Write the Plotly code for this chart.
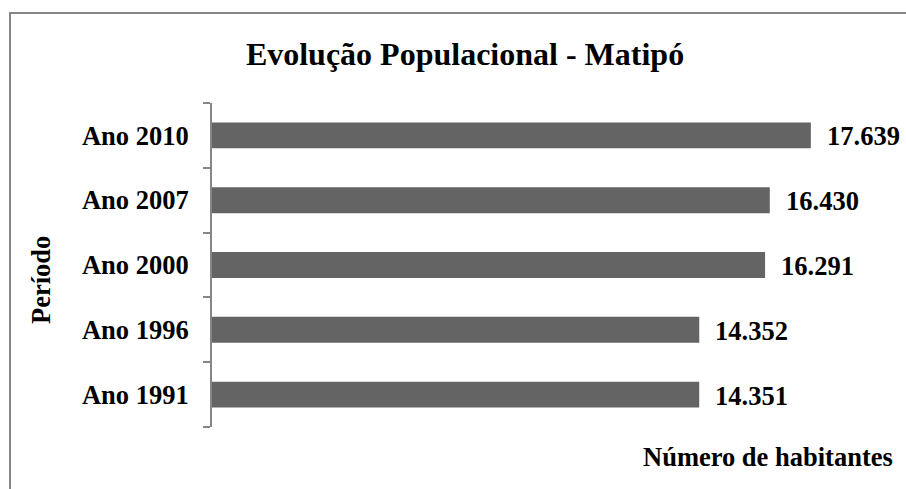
import plotly.graph_objects as go

# dados
periodos = ["Ano 1991", "Ano 1996", "Ano 2000", "Ano 2007", "Ano 2010"]
habitantes = [14351, 14352, 16291, 16430, 17639]
rotulos = ["14.351", "14.352", "16.291", "16.430", "17.639"]

fonte = "Liberation Serif, Times New Roman, serif"
W, H = 906, 489
L, R, T, B = 212, 15, 103, 62
fs = 26.5

fig = go.Figure()
fig.add_trace(go.Bar(
    y=periodos, x=habitantes, orientation="h",
    marker=dict(color="#646464", line=dict(width=0)),
    hoverinfo="skip",
))

# rotulos de dados
for p, v, r in zip(periodos, habitantes, rotulos):
    fig.add_annotation(x=v, y=p, text="<b>%s</b>" % r, showarrow=False,
                       xanchor="left", xshift=14, yshift=-1,
                       font=dict(family=fonte, size=fs, color="black"))

pw = W - L - R
ph = H - T - B
def px_x(x):
    return (x - L) / pw
def px_y(y):
    return (H - B - y) / ph

# moldura do grafico
fig.add_shape(type="rect", xref="paper", yref="paper",
              x0=px_x(10), x1=px_x(915), y0=px_y(13), y1=px_y(500),
              line=dict(color="#868686", width=2), layer="below")

fig.add_annotation(xref="paper", yref="paper", x=px_x(41), y=px_y(280),
                   xanchor="center", yanchor="middle",
                   text="<b>Período</b>", textangle=-90, showarrow=False,
                   font=dict(family=fonte, size=fs, color="black"))
fig.add_annotation(xref="paper", yref="paper", x=px_x(895), y=px_y(457),
                   xanchor="right", yanchor="middle",
                   text="<b>Número de habitantes</b>", showarrow=False,
                   font=dict(family=fonte, size=fs, color="black"))

fig.update_layout(
    width=W, height=H,
    margin=dict(l=L, r=R, t=T, b=B),
    paper_bgcolor="white", plot_bgcolor="white",
    showlegend=False,
    bargap=0.6,
    title=dict(text="<b>Evolução Populacional - Matipó</b>", x=465 / W, xanchor="center",
               y=1 - 54 / H, yanchor="middle",
               font=dict(family=fonte, size=32, color="black")),
    xaxis=dict(range=[0, 20000], visible=False, fixedrange=True),
    yaxis=dict(showline=True, linecolor="#868686", linewidth=2,
               ticks="outside", tickson="boundaries", ticklen=7, tickcolor="#868686", tickwidth=2,
               ticklabelstandoff=16,
               tickfont=dict(family=fonte, size=fs, color="black"),
               showgrid=False, zeroline=False, fixedrange=True),
)
fig.for_each_yaxis(lambda a: a.update(tickprefix="<b>", ticksuffix="</b>"))

fig.write_html("out.html", config={"displayModeBar": False},
               post_script="document.body.style.margin='0';document.body.style.overflow='hidden';")
